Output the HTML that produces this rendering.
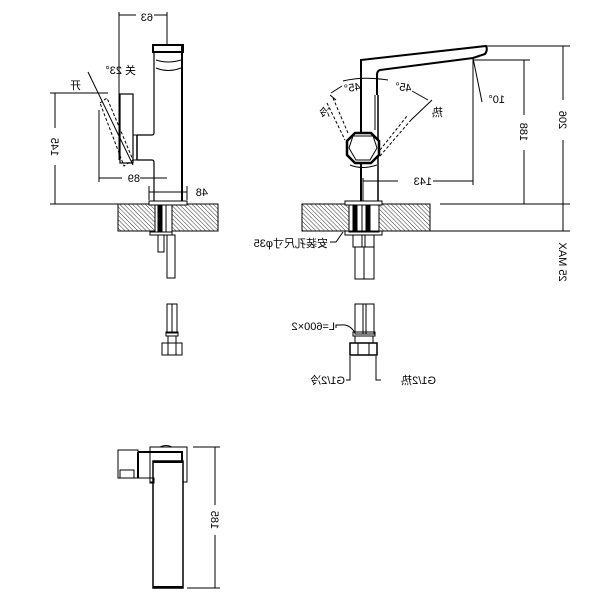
<!DOCTYPE html>
<html><head><meta charset="utf-8"><style>
html,body{margin:0;padding:0;background:#fff;}
svg{display:block;}
text{font-family:"Liberation Sans","Noto Sans CJK SC",sans-serif;font-size:11px;fill:#000;}
</style></head><body>
<svg width="600" height="600" viewBox="0 0 600 600" xmlns="http://www.w3.org/2000/svg">
<defs>
<pattern id="h" width="3" height="3" patternUnits="userSpaceOnUse" patternTransform="rotate(-45)">
<line x1="0" y1="0" x2="0" y2="3" stroke="#000" stroke-width="0.8"/>
</pattern>
</defs>
<g fill="none" stroke="#000" stroke-width="1">
<!-- LEFT VIEW -->
<line x1="119" y1="12" x2="119" y2="160"/>
<line x1="167" y1="12" x2="167" y2="45"/>
<line x1="119" y1="15" x2="136" y2="15"/><line x1="154" y1="15" x2="167" y2="15"/>
<rect x="153" y="45" width="30" height="7" stroke-width="2"/>
<path d="M154 52 V133 Q154 135 152 135 H137 M137 160 H152 Q154 160 154 163 V205" stroke-width="1.2"/>
<line x1="182" y1="45" x2="182" y2="205" stroke-width="2"/>
<path d="M156 60 Q168 64 181 60" />
<path d="M156 68 Q168 73 181 68" />
<rect x="120" y="94" width="13" height="69" stroke-width="1.2"/>
<line x1="137" y1="135" x2="137" y2="160" stroke-width="1.5"/>
<line x1="133" y1="135" x2="137" y2="135"/><line x1="133" y1="160" x2="137" y2="160"/>
<path d="M100 103 L107 98 L133 160 L124 166 Z" stroke-dasharray="3,2"/>
<line x1="88" y1="72" x2="133" y2="165"/>
<line x1="55" y1="93" x2="55" y2="128"/><line x1="55" y1="165" x2="55" y2="204"/>
<line x1="50" y1="93" x2="108" y2="93"/>
<line x1="99" y1="110" x2="99" y2="182"/>
<line x1="99" y1="178" x2="122" y2="178"/><line x1="140" y1="178" x2="167" y2="178"/>
<line x1="149" y1="186" x2="149" y2="200"/><line x1="187" y1="186" x2="187" y2="200"/>
<line x1="149" y1="192" x2="187" y2="192"/>
<line x1="50" y1="204" x2="118" y2="204"/>
<rect x="118" y="204" width="100" height="27" fill="url(#h)"/>
<rect x="149" y="201" width="38" height="4" fill="#fff"/>
<rect x="155" y="205" width="17" height="27" fill="#fff"/>
<rect x="158" y="205" width="4" height="27" fill="#000"/>
<line x1="166" y1="205" x2="166" y2="232"/>
<rect x="150" y="232" width="22" height="3"/>
<rect x="158" y="235" width="6" height="17"/>
<rect x="167" y="235" width="8" height="43"/>
<!-- RIGHT VIEW -->
<path d="M361 205 V60 L486 46 Q488 50 485 54 L473 58 L380 70 Q377 71 377 75 V95" stroke-width="2"/>
<line x1="378" y1="95" x2="378" y2="205" stroke-width="1.5"/>
<line x1="375" y1="95" x2="375" y2="130"/>
<line x1="361" y1="60" x2="361" y2="205" stroke-width="2"/>
<polygon points="355,133 371,133 379,141 379,155 371,163 355,163 347,155 347,141" stroke-width="2.5" fill="#fff"/>
<polygon points="353,136 373,136 377,148 370,160 356,160 349,148" />
<path d="M350 165 Q362 170 377 165"/>
<path d="M343 81 Q362 76 388 80"/>
<line x1="331" y1="93" x2="342" y2="86"/>
<line x1="412" y1="91" x2="428" y2="100"/>
<path d="M333 98 L348 133" stroke-dasharray="3,2"/><path d="M327 103 L345 140" stroke-dasharray="3,2"/>
<line x1="330" y1="95" x2="336" y2="100"/>
<line x1="380" y1="150" x2="407" y2="116" stroke-dasharray="3,2"/>
<line x1="380" y1="156" x2="411" y2="120" stroke-dasharray="3,2"/>
<line x1="411" y1="120" x2="432" y2="100"/>
<line x1="473" y1="58" x2="482" y2="102"/>
<line x1="473" y1="58" x2="473" y2="185"/>
<line x1="363" y1="178" x2="363" y2="205"/>
<line x1="363" y1="181" x2="398" y2="181"/><line x1="433" y1="181" x2="473" y2="181"/>
<line x1="473" y1="60" x2="530" y2="60"/>
<line x1="486" y1="46" x2="570" y2="46"/>
<line x1="524" y1="60" x2="524" y2="115"/><line x1="524" y1="150" x2="524" y2="204"/>
<line x1="563" y1="46" x2="563" y2="100"/><line x1="563" y1="140" x2="563" y2="231"/>
<line x1="440" y1="204" x2="570" y2="204"/>
<line x1="430" y1="231" x2="570" y2="231"/>
<rect x="302" y="204" width="128" height="27" fill="url(#h)"/>
<rect x="345" y="201" width="37" height="4" fill="#fff"/>
<rect x="349" y="205" width="30" height="27" fill="#fff"/>
<rect x="353" y="205" width="4" height="27" fill="#000"/><rect x="366" y="205" width="4" height="27" fill="#000"/>
<line x1="362" y1="205" x2="362" y2="232"/>
<rect x="345" y="231" width="37" height="4"/>
<rect x="353" y="235" width="9" height="12"/><rect x="365" y="235" width="9" height="12"/>
<rect x="355" y="247" width="19" height="32"/><line x1="364" y1="247" x2="364" y2="279"/>
<path d="M343 232 L336 242 H330"/>
<!-- bottom connectors -->
<rect x="167" y="304" width="10" height="29"/><line x1="172" y1="304" x2="172" y2="333"/>
<rect x="166" y="332" width="12" height="4"/>
<rect x="168" y="336" width="8" height="7"/>
<rect x="162" y="343" width="20" height="12"/><line x1="168" y1="343" x2="168" y2="355"/><line x1="176" y1="343" x2="176" y2="355"/>
<rect x="355" y="304" width="19" height="30"/><line x1="363" y1="304" x2="363" y2="334"/><line x1="366" y1="304" x2="366" y2="334"/>
<rect x="353" y="332" width="22" height="4"/>
<rect x="355" y="336" width="18" height="7"/>
<rect x="350" y="343" width="27" height="12" stroke-width="1.5"/><line x1="358" y1="343" x2="358" y2="355"/><line x1="369" y1="343" x2="369" y2="355"/>
<path d="M355 333 Q350 324 341 325 H336 V328"/>
<path d="M350 356 V380 H346"/><path d="M376 356 V380 H381"/>
<!-- TOP VIEW -->
<rect x="150" y="447" width="37" height="35"/>
<path d="M160 447 Q166 444 172 447"/>
<rect x="153" y="461" width="30" height="127" stroke-width="1.5" fill="#fff"/>
<line x1="153" y1="587" x2="183" y2="587" stroke-width="2"/>
<line x1="153" y1="462" x2="183" y2="462" stroke-width="2"/>
<path d="M138 452 H182 V461" stroke-width="2"/>
<line x1="138" y1="452" x2="138" y2="478" stroke-width="2"/>
<line x1="138" y1="478" x2="153" y2="478"/>
<rect x="118" y="450" width="20" height="28"/>
<rect x="120" y="470" width="14" height="8"/>
<rect x="150" y="478" width="4" height="5"/>
<line x1="193" y1="447" x2="220" y2="447"/><line x1="187" y1="588" x2="220" y2="588"/>
<line x1="215" y1="447" x2="215" y2="505"/><line x1="215" y1="535" x2="215" y2="588"/>
</g>
<g>
<text transform="translate(153,21) scale(-1,1)">63</text>
<text transform="translate(136,74) scale(-1,1)">关 23°</text>
<text transform="translate(81,89) scale(-1,1)">开</text>
<text transform="translate(51,147) rotate(90) scale(-1,1)" text-anchor="middle">145</text>
<text transform="translate(140,182) scale(-1,1)">89</text>
<text transform="translate(208,196) scale(-1,1)">48</text>
<text transform="translate(361,90) rotate(-8) scale(-1,1)">45°</text>
<text transform="translate(411,92) rotate(8) scale(-1,1)">45°</text>
<text transform="translate(330,116) scale(-1,1)">冷</text>
<text transform="translate(443,116) scale(-1,1)">热</text>
<text transform="translate(505,103) scale(-1,1)">10°</text>
<text transform="translate(432,185) scale(-1,1)">143</text>
<text transform="translate(520,132) rotate(90) scale(-1,1)" text-anchor="middle">188</text>
<text transform="translate(559,120) rotate(90) scale(-1,1)" text-anchor="middle">206</text>
<text transform="translate(559,262) rotate(90) scale(-1,1)" text-anchor="middle">25 MAX</text>
<text transform="translate(328,247) scale(-1,1)">安装孔尺寸φ35</text>
<text transform="translate(335,330) scale(-1,1)">L=600×2</text>
<text transform="translate(345,384) scale(-1,1)">G1/2冷</text>
<text transform="translate(436,384) scale(-1,1)">G1/2热</text>
<text transform="translate(211,520) rotate(90) scale(-1,1)" text-anchor="middle">185</text>
</g>
</svg>
</body></html>
